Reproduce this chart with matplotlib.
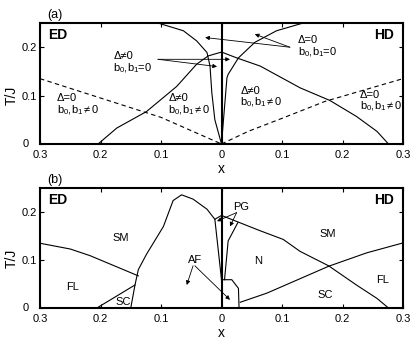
import matplotlib
matplotlib.use("Agg")
import matplotlib.pyplot as plt

plt.rcParams['font.family'] = ['Liberation Sans', 'DejaVu Sans']
plt.rcParams['mathtext.fontset'] = 'custom'
plt.rcParams['mathtext.rm'] = 'Liberation Sans'
plt.rcParams['mathtext.it'] = 'Liberation Sans'

# x axis runs from ED side (negative, shown as positive) to HD side
xtick_pos = [-0.3, -0.2, -0.1, 0.0, 0.1, 0.2, 0.3]
xtick_labels = ['0.3', '0.2', '0.1', '0', '0.1', '0.2', '0.3']

# ---- panel (a) data ----
dash_ed_x = [-0.3, -0.2, -0.1, -0.04, 0.0]
dash_ed_y = [0.135, 0.095, 0.055, 0.022, 0.0]
dash_hd_x = [0.0, 0.044, 0.1, 0.171, 0.3]
dash_hd_y = [0.0, 0.026, 0.053, 0.088, 0.135]

tc_a_x = [-0.204, -0.173, -0.124, -0.074, -0.041, -0.022, 0.0, 0.025, 0.064, 0.13, 0.179, 0.223, 0.257, 0.276]
tc_a_y = [0.0, 0.033, 0.067, 0.119, 0.165, 0.182, 0.19, 0.178, 0.161, 0.116, 0.09, 0.057, 0.026, 0.0]

dip_ed_x = [-0.105, -0.063, -0.041, -0.024, -0.019, -0.016, -0.011, 0.0]
dip_ed_y = [0.25, 0.234, 0.213, 0.189, 0.161, 0.106, 0.05, 0.0]
rise_hd_x = [0.0, 0.009, 0.011, 0.028, 0.055, 0.091, 0.135]
rise_hd_y = [0.0, 0.137, 0.144, 0.178, 0.21, 0.234, 0.25]

# ---- panel (b) data ----
flsm_ed_x = [-0.3, -0.25, -0.217, -0.1375]
flsm_ed_y = [0.135, 0.123, 0.109, 0.067]
sc_ed_x = [-0.206, -0.143]
sc_ed_y = [0.0, 0.048]

dome_x = [-0.15, -0.143, -0.1375, -0.124, -0.096, -0.08, -0.066, -0.047, -0.024, -0.0135, -0.011, 0.0]
dome_y = [0.0, 0.048, 0.08, 0.112, 0.17, 0.224, 0.236, 0.227, 0.206, 0.189, 0.185, 0.193]
pg_left_x = [-0.011, 0.0]
pg_left_y = [0.185, 0.059]

tc_b_x = [0.0, 0.036, 0.064, 0.102, 0.13, 0.177, 0.223, 0.257, 0.276]
tc_b_y = [0.193, 0.175, 0.161, 0.143, 0.118, 0.088, 0.048, 0.02, 0.0]
pg_right_x = [0.005, 0.011, 0.027]
pg_right_y = [0.059, 0.14, 0.178]

af_box_x = [0.0, 0.017, 0.028, 0.029]
af_box_y = [0.059, 0.059, 0.041, 0.0]

scn_hd_x = [0.031, 0.075, 0.177, 0.24, 0.298]
scn_hd_y = [0.012, 0.031, 0.087, 0.115, 0.135]

LW = 0.8
fig = plt.figure(figsize=(4.15, 3.42), dpi=100)
ax_a = fig.add_axes([0.0964, 0.579, 0.8747, 0.3537])
ax_b = fig.add_axes([0.0964, 0.0994, 0.8747, 0.3506])

arrow = dict(arrowstyle='-|>', lw=0.6, color='k', mutation_scale=6,
             shrinkA=0, shrinkB=0)


def setup(ax, tag, label_y):
    ax.set_xlim(-0.3, 0.3)
    ax.set_ylim(0, 0.25)
    ax.set_xticks(xtick_pos)
    ax.set_xticklabels(xtick_labels)
    ax.set_yticks([0, 0.1, 0.2])
    ax.set_yticklabels(['', '0.1', '0.2'])
    ax.tick_params(direction='in', top=True, right=True, length=3,
                   width=0.8, labelsize=8)
    ax.tick_params(axis='y', pad=2)
    ax.tick_params(axis='x', pad=4)
    for s in ax.spines.values():
        s.set_linewidth(1.5)
    ax.axvline(0, color='k', lw=1.5)
    ax.annotate('0', xy=(0, 0), xycoords='axes fraction', xytext=(-8, 0),
                textcoords='offset points', ha='right', va='center', fontsize=8)
    ax.set_ylabel('T/J', fontsize=10)
    ax.yaxis.set_label_coords(-0.058, label_y)
    ax.set_xlabel('x', fontsize=10)
    ax.xaxis.set_label_coords(0.5, -0.15)
    ax.text(0.041, 1.065, tag, transform=ax.transAxes, ha='center',
            va='center', fontsize=9)
    ax.text(0.022, 0.9, 'ED', transform=ax.transAxes, ha='left',
            va='center', fontsize=10, fontweight='bold')
    ax.text(0.975, 0.9, 'HD', transform=ax.transAxes, ha='right',
            va='center', fontsize=10, fontweight='bold')


setup(ax_a, '(a)', 0.40)
setup(ax_b, '(b)', 0.41)

# panel (a)
ax_a.plot(dash_ed_x, dash_ed_y, 'k--', lw=LW, dashes=(4, 3))
ax_a.plot(dash_hd_x, dash_hd_y, 'k--', lw=LW, dashes=(4, 3))
ax_a.plot(tc_a_x, tc_a_y, 'k-', lw=LW)
ax_a.plot(dip_ed_x, dip_ed_y, 'k-', lw=LW)
ax_a.plot(rise_hd_x, rise_hd_y, 'k-', lw=LW)

nz = r'b$_0$,b$_1$$\neq$0'
ez = r'b$_0$,b$_1$=0'
fs = 8
ax_a.text(-0.272, 0.081, 'Δ=0\n' + nz, fontsize=fs, va='center', linespacing=1.0)
ax_a.text(-0.088, 0.081, 'Δ≠0\n' + nz, fontsize=fs, va='center', linespacing=1.0)
ax_a.text(0.031, 0.096, 'Δ≠0\n' + nz, fontsize=fs, va='center', linespacing=1.0)
ax_a.text(0.229, 0.0875, 'Δ=0\n' + nz, fontsize=fs, va='center', linespacing=1.0)
ax_a.text(-0.179, 0.167, 'Δ≠0\n' + ez, fontsize=fs, va='center', linespacing=1.0)
ax_a.text(0.126, 0.2, 'Δ=0\n' + ez, fontsize=fs, va='center', linespacing=1.0)

ax_a.annotate('', xy=(0.014, 0.175), xytext=(-0.105, 0.175), arrowprops=arrow)
ax_a.annotate('', xy=(-0.0074, 0.16), xytext=(-0.105, 0.175), arrowprops=arrow)
ax_a.annotate('', xy=(-0.027, 0.22), xytext=(0.113, 0.2), arrowprops=arrow)
ax_a.annotate('', xy=(0.055, 0.227), xytext=(0.113, 0.2), arrowprops=arrow)

# panel (b)
ax_b.plot(flsm_ed_x, flsm_ed_y, 'k-', lw=LW)
ax_b.plot(sc_ed_x, sc_ed_y, 'k-', lw=LW)
ax_b.plot(dome_x, dome_y, 'k-', lw=LW)
ax_b.plot(pg_left_x, pg_left_y, 'k-', lw=LW)
ax_b.plot(tc_b_x, tc_b_y, 'k-', lw=LW)
ax_b.plot(pg_right_x, pg_right_y, 'k-', lw=LW)
ax_b.plot(af_box_x, af_box_y, 'k-', lw=LW)
ax_b.plot(scn_hd_x, scn_hd_y, 'k-', lw=LW)

for lab, xx, yy in [('SM', -0.166, 0.147), ('FL', -0.247, 0.044),
                    ('SC', -0.163, 0.013), ('N', 0.06, 0.097),
                    ('SM', 0.176, 0.154), ('FL', 0.267, 0.059),
                    ('SC', 0.171, 0.027)]:
    ax_b.text(xx, yy, lab, fontsize=fs, ha='center', va='center')

ax_b.text(0.032, 0.21, 'PG', fontsize=fs, ha='center', va='center')
ax_b.annotate('', xy=(-0.0074, 0.181), xytext=(0.025, 0.199), arrowprops=arrow)
ax_b.annotate('', xy=(0.014, 0.17), xytext=(0.025, 0.199), arrowprops=arrow)
ax_b.text(-0.044, 0.101, 'AF', fontsize=fs, ha='center', va='center')
ax_b.annotate('', xy=(-0.0575, 0.048), xytext=(-0.047, 0.088), arrowprops=arrow)
ax_b.annotate('', xy=(0.014, 0.017), xytext=(-0.044, 0.088), arrowprops=arrow)

fig.savefig('out.png', dpi=100)
